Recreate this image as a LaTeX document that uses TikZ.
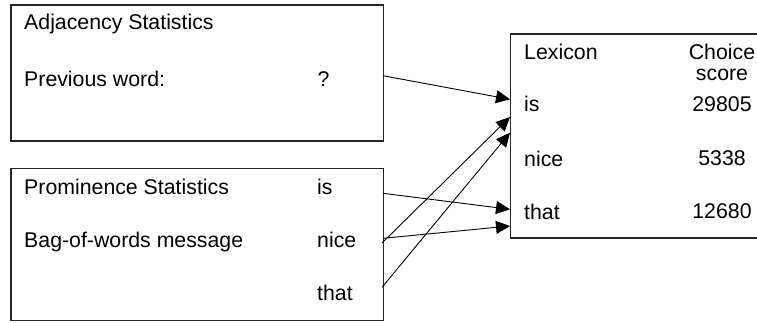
\documentclass[tikz,border=0pt]{standalone}
\usepackage{fontspec}
\setmainfont{Liberation Sans}
\usetikzlibrary{arrows.meta}
\begin{document}
\begin{tikzpicture}[x=1pt,y=-1pt,
  panel/.style={draw=black!85,line width=1.1pt},
  txt/.style={inner sep=0pt,anchor=base west,font=\fontsize{21.3}{25}\selectfont},
  ctxt/.style={inner sep=0pt,anchor=base,font=\fontsize{21.3}{25}\selectfont},
  link/.style={line width=0.9pt,-{Triangle[length=14pt,width=13pt]}}]
\useasboundingbox (0,0) rectangle (757,322);
% panels
\draw[panel] (11,5) rectangle (383.5,141);
\draw[panel] (11,168.5) rectangle (383.5,320.5);
\draw[panel] (762,34) -- (510.5,34) -- (510.5,238) -- (762,238);
% adjacency panel
\node[txt] (adj) at (24,29.5) {Adjacency Statistics};
\node[txt] (prev) at (24,86) {Previous word:};
\node[ctxt] (q) at (323.5,86) {?};
% prominence panel
\node[txt] (prom) at (24,194.5) {Prominence Statistics};
\node[txt] (bag) at (24,247) {Bag-of-words message};
\node[txt] (bis) at (317,194.5) {is};
\node[txt] (bnice) at (317,247) {nice};
\node[txt] (bthat) at (317,300) {that};
% lexicon panel
\node[txt] (lex) at (524,59.3) {Lexicon};
\node[ctxt] (choice) at (722,59.3) {Choice};
\node[ctxt] (score) at (722,80.7) {score};
\node[txt] (lis) at (524,111.5) {is};
\node[ctxt] (sis) at (722,111) {29805};
\node[txt] (lnice) at (524,166) {nice};
\node[ctxt] (snice) at (722,165.5) {5338};
\node[txt] (lthat) at (524,219) {that};
\node[ctxt] (sthat) at (722,218.7) {12680};
% connector end points
\coordinate (qout) at (383,75.7);
\coordinate (isout) at (383,193.3);
\coordinate (niceoutA) at (383,238.3);
\coordinate (niceoutB) at (382,243);
\coordinate (thatout) at (382,287.3);
\coordinate (inisA) at (510,99.3);
\coordinate (inisB) at (510,117);
\coordinate (inisC) at (510,132.7);
\coordinate (inthatA) at (510,209.3);
\coordinate (inthatB) at (510,226);
% connectors
\draw[link] (qout) -- (inisA);
\draw[link] (niceoutB) -- (inisB);
\draw[link] (thatout) -- (inisC);
\draw[link] (isout) -- (inthatA);
\draw[link] (niceoutA) -- (inthatB);
\end{tikzpicture}
\end{document}
